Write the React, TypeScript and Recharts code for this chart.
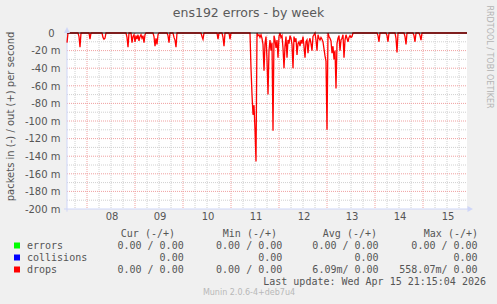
import React from 'react'
import { LineChart, Line, XAxis, YAxis, CartesianGrid, ReferenceLine } from 'recharts'

// half-hour samples from Tue 07 14:00 to Wed 15 22:00 (401 points)
// drops "in" rate, in milli packets/s, drawn negative
const drops: number[] = [
  -11, 0, 0, 0, 0, 0, 0, 0, 0, 0, 0, 0, -4, -16, 0, 0, 0, 0, 0, 0,
  0, 0, 0, -7, 0, 0, 0, 0, 0, 0, 0, 0, 0, 0, 0, 0, -5, -7, -6, 0,
  0, 0, 0, 0, 0, 0, 0, 0, 0, 0, 0, 0, 0, 0, 0, 0, 0, 0, 0, 0,
  -5, -16, 0, 0, 0, -11, -4, -2, -10, -3, -7, -2, -9, -4, -2, -6, -3, -11, -2, 0,
  0, 0, 0, 0, 0, 0, 0, -4, -15, -6, -13, -2, 0, 0, 0, 0, 0, 0, 0, 0,
  0, -3, -11, 0, 0, 0, 0, -5, -8, -16, 0, 0, 0, 0, 0, 0, 0, 0, 0, 0,
  0, 0, 0, 0, 0, 0, 0, 0, 0, 0, 0, 0, 0, 0, 0, -4, -7, 0, 0, 0,
  0, 0, 0, 0, 0, 0, 0, 0, 0, 0, 0, -7, 0, 0, 0, 0, -5, -15, 0, 0,
  0, 0, 0, -7, 0, 0, 0, 0, 0, 0, 0, 0, 0, 0, 0, 0, 0, 0, 0, 0,
  0, 0, 0, 0, -40, -70, -93, -82, -110, -146, 0, -3, -2, -5, -2, -6, -13, -43, -12, -4,
  -30, -70, -20, -8, -20, -11, -111, -3, -8, -17, -8, -28, -4, 0, -5, -3, -17, -40, -15, -4,
  -28, -8, -12, -3, -6, -13, -40, -4, -10, -6, -25, -12, -10, -15, -8, -12, -4, -15, -28, -10,
  -8, -23, -10, -6, -12, -20, -4, -2, 0, -8, -20, -2, -6, -8, -5, -7, -10, -18, -26, -32,
  -110, 0, -4, -6, -9, -23, -15, -30, -20, -63, -12, -6, -3, -20, -8, -6, -2, -28, -8, -2,
  -6, -10, -5, -3, -5, -4, 0, 0, 0, 0, 0, 0, 0, 0, 0, 0, 0, 0, 0, 0,
  0, 0, 0, 0, 0, 0, 0, 0, 0, 0, 0, -3, -10, 0, 0, 0, 0, 0, 0, 0,
  -3, -10, 0, 0, 0, 0, 0, 0, 0, -6, -22, 0, 0, 0, 0, 0, 0, 0, -4, -13,
  0, 0, 0, 0, 0, 0, 0, -3, -10, 0, 0, 0, 0, -3, -8, 0, 0, 0, 0, 0,
  0, 0, 0, 0, 0, 0, 0, 0, 0, 0, 0, 0, 0, 0, 0, 0, 0, 0, 0, 0,
  0, 0, 0, 0, 0, 0, 0, 0, 0, 0, 0, 0, 0, 0, 0, 0, 0, 0, 0, 0,
  0,
]

const dayLabels = ['08', '09', '10', '11', '12', '13', '14', '15']
const dayTicks = [45, 93, 141, 189, 237, 285, 333, 381]
const midnights = [20, 68, 116, 164, 212, 260, 308, 356]
const sixHours = [8, 32, 44, 56, 80, 92, 104, 128, 140, 152, 176, 188, 200, 224, 236, 248, 272, 284, 296, 320, 332, 344, 368, 380, 392]

const yTicks = [0, -20, -40, -60, -80, -100, -120, -140, -160, -180, -200]
const yMajor = [-20, -40, -60, -80, -100, -120, -140, -160, -180]
const yMinor = [-10, -30, -50, -70, -90, -110, -130, -150, -170, -190]

const columnHeads = ['Cur (-/+)', 'Min (-/+)', 'Avg (-/+)', 'Max (-/+)']
const legendNames = ['errors', 'collisions', 'drops']
const legendColors = ['#00ff00', '#0000ff', '#ff0000']
const curValues = ['0.00 / 0.00', '0.00', '0.00 / 0.00']
const minValues = ['0.00 / 0.00', '0.00', '0.00 / 0.00']
const avgValues = ['0.00 / 0.00', '0.00', '6.09m/ 0.00']
const maxValues = ['0.00 / 0.00', '0.00', '558.07m/ 0.00']

const data = drops.map((v, i) => ({ t: i, drops: v }))

const FONT = 'DejaVu Sans, sans-serif'
const MONO = 'DejaVu Sans Mono, monospace'
const TXT = '#555'
const AXIS = '#CFD6F8'

const headEnds = [175, 277, 377, 478]
const valueEnds = [183.7, 282.3, 378.6, 477.6]

function YTick(props: any) {
  const { y, payload } = props
  const v = payload.value
  return (
    <text x={v === 0 ? 54.5 : 60.5} y={y + 3.7} textAnchor="end" fontSize={10} fill={TXT} fontFamily={FONT}>
      {v === 0 ? '0' : `${v} m`}
    </text>
  )
}

function XTick(props: any) {
  const { x, payload } = props
  const label = dayLabels[dayTicks.indexOf(payload.value)]
  return (
    <text x={x} y={220} textAnchor="middle" fontSize={10} fill={TXT} fontFamily={FONT}>
      {label}
    </text>
  )
}

export default function App() {
  const rows = [curValues, minValues, avgValues, maxValues]
  return (
    <div style={{ position: 'relative', width: 497, height: 304, background: '#f0f0f0', overflow: 'hidden' }}>
      <style>{`body{margin:0}`}</style>
      <LineChart width={497} height={304} data={data} margin={{ top: 33, right: 30, bottom: 75, left: 0 }}>
        <CartesianGrid
          fill="#ffffff"
          stroke="#d0d0d0"
          strokeDasharray="1 1"
          horizontalValues={yMinor}
          verticalValues={sixHours}
        />
        <CartesianGrid
          fill="none"
          stroke="#f0a0a0"
          strokeDasharray="1 1"
          horizontalValues={yMajor}
          verticalValues={midnights}
        />
        <XAxis
          dataKey="t"
          type="number"
          domain={[0, 400]}
          ticks={dayTicks}
          interval={0}
          height={20}
          axisLine={false}
          tickLine={false}
          tick={<XTick />}
        />
        <YAxis
          type="number"
          domain={[-200, 0]}
          ticks={yTicks}
          interval={0}
          width={67}
          axisLine={false}
          tickLine={false}
          tick={<YTick />}
        />
        <ReferenceLine
          ifOverflow="visible"
          segment={[{ x: -3, y: -200 }, { x: 401, y: -200 }]}
          stroke={AXIS}
          strokeWidth={1}
        />
        <ReferenceLine
          ifOverflow="visible"
          segment={[{ x: 0, y: -203 }, { x: 0, y: 0 }]}
          stroke={AXIS}
          strokeWidth={1}
        />
        <Line
          type="linear"
          dataKey="drops"
          stroke="#ff0000"
          strokeWidth={1.3}
          dot={false}
          activeDot={false}
          isAnimationActive={false}
        />
        <ReferenceLine y={0} stroke="#000000" strokeWidth={1} />
      </LineChart>

      <svg width={497} height={304} style={{ position: 'absolute', left: 0, top: 0, pointerEvents: 'none' }}>
        {/* axis arrows */}
        <polygon points="67,27 64,33 70,33" fill={AXIS} />
        <polygon points="473,209 467.5,206 467.5,212" fill={AXIS} />

        <text x={248.5} y={17} textAnchor="middle" fontSize={12.5} fill="#5a5a5a" fontFamily={FONT}>
          ens192 errors - by week
        </text>
        <text
          x={13.5}
          y={116.5}
          textAnchor="middle"
          fontSize={10}
          fill={TXT}
          fontFamily={FONT}
          transform="rotate(-90 13.5 116.5)"
        >
          packets in (-) / out (+) per second
        </text>
        <text
          x={486.5}
          y={57}
          textAnchor="middle"
          fontSize={8}
          fill="#b4b4b4"
          fontFamily={FONT}
          transform="rotate(90 486.5 57)"
        >
          RRDTOOL / TOBI OETIKER
        </text>

        {columnHeads.map((h, i) => (
          <text key={h} x={headEnds[i]} y={236.5} textAnchor="end" fontSize={10} fill={TXT} fontFamily={MONO}>
            {h}
          </text>
        ))}
        {legendNames.map((name, r) => (
          <g key={name}>
            <rect x={14} y={242.5 + r * 12} width={6} height={6} fill={legendColors[r]} />
            <text x={27} y={248.5 + r * 12} fontSize={10} fill={TXT} fontFamily={MONO}>
              {name}
            </text>
            {rows.map((col, c) => (
              <text
                key={c}
                x={valueEnds[c]}
                y={248.5 + r * 12}
                textAnchor="end"
                fontSize={10}
                fill={TXT}
                fontFamily={MONO}
                style={{ whiteSpace: 'pre' }}
              >
                {col[r]}
              </text>
            ))}
          </g>
        ))}
        <text x={486} y={284.5} textAnchor="end" fontSize={10} fill={TXT} fontFamily={MONO}>
          Last update: Wed Apr 15 21:15:04 2026
        </text>
        <text x={249} y={295} textAnchor="middle" fontSize={8} fill="#b8b8b8" fontFamily={FONT}>
          Munin 2.0.6-4+deb7u4
        </text>
      </svg>
    </div>
  )
}
